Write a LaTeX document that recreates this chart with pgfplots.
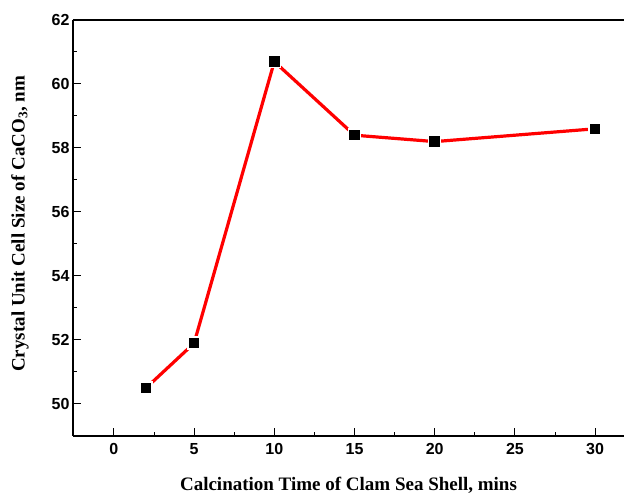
\documentclass[border=0pt]{standalone}
\usepackage{fontspec}
\setmainfont{Liberation Serif}
\setsansfont{Liberation Sans}
\usepackage{pgfplots}
\pgfplotsset{compat=1.18}
\begin{document}
\begin{tikzpicture}
\begin{axis}[
  name=ax, at={(0,0)}, anchor=south west,
  scale only axis, width=551pt, height=416pt,
  xmin=-2.55, xmax=31.8, ymin=49, ymax=62,
  axis y line*=left,
  axis line style={line width=1.2pt},
  xtick={0,5,...,30}, ytick={50,52,...,62},
  minor x tick num=1, minor y tick num=1,
  xtick pos=bottom, ytick pos=left, tick align=inside,
  major tick length=8pt, minor tick length=4pt,
  every tick/.style={black, line width=1pt},
  /pgf/number format/assume math mode=true,
  ticklabel style={font=\sffamily\bfseries\fontsize{16}{16}\selectfont},
  xticklabel style={yshift=-4pt},
  xlabel={Calcination Time of Clam Sea Shell, mins},
  ylabel={Crystal Unit Cell Size of CaCO\textsubscript{3}, nm},
  label style={font=\bfseries\fontsize{19}{19}\selectfont},
  xlabel style={at={(rel axis cs:0.5,0)}, anchor=center, yshift=-49pt},
  ylabel style={at={(rel axis cs:0,0.51)}, anchor=center, rotate=0, yshift=53pt},
]
\addplot[red, line width=3.2pt, mark=square*, mark size=6pt,
  mark options={fill=black, draw=white, line width=1.5pt}]
  coordinates {(2,50.5) (5,51.9) (10,60.7) (15,58.4) (20,58.2) (30,58.6)};
\end{axis}
\pgfresetboundingbox
\useasboundingbox (-73pt,-59pt) rectangle (551pt,436pt);
\end{tikzpicture}
\end{document}
